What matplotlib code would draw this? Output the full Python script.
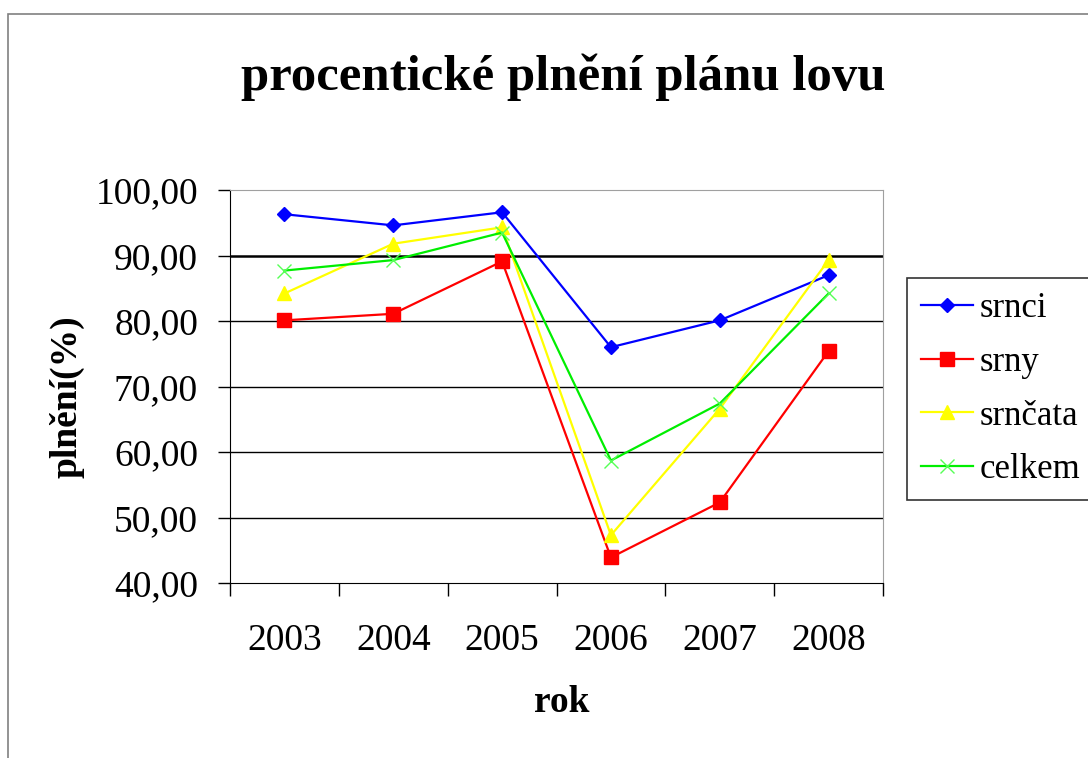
import numpy as np
import matplotlib.pyplot as plt
from matplotlib.patches import Rectangle

## data
years = ['2003', '2004', '2005', '2006', '2007', '2008']
srnci = [96.3, 94.6, 96.6, 76.0, 80.1, 87.0]
srny = [80.1, 81.1, 89.1, 43.9, 52.3, 75.4]
srncata = [84.2, 91.8, 94.3, 47.3, 66.6, 89.3]
celkem = [87.7, 89.3, 93.5, 58.7, 67.4, 84.2]
y_ticks = [40, 50, 60, 70, 80, 90, 100]

plt.rcParams['font.family'] = ['Liberation Serif', 'DejaVu Serif']

fig = plt.figure(figsize=(10.88, 7.58), dpi=100)
ax = fig.add_axes([230 / 1088, 1 - 583 / 758, 653 / 1088, 393 / 758])

## outer chart frame (cut off at right and bottom)
fig.patches.append(Rectangle((8 / 1088, -0.1), 1.2, 1 - 14 / 758 + 0.1,
                             transform=fig.transFigure, fill=False,
                             edgecolor='#808080', linewidth=1.2))

x = np.arange(len(years))
for yv in y_ticks[1:-1]:
    ax.axhline(yv, color='black', linewidth=1.8 if yv == 90 else 1.0, zorder=1)

ax.plot(x, srnci, color='#0000FF', marker='D', markersize=7, linewidth=1.6, label='srnci', zorder=3)
ax.plot(x, srny, color='#FF0000', marker='s', markersize=10, linewidth=1.6, label='srny', zorder=3)
ax.plot(x, srncata, color='#FFFF00', marker='^', markersize=10, linewidth=1.6, label='srnčata', zorder=3)
ax.plot(x, celkem, color='#00EE00', marker='x', markersize=10, markeredgewidth=1.0,
        markeredgecolor='#55FF55', linewidth=1.6, label='celkem', zorder=3)

ax.set_xlim(-0.5, len(years) - 0.5)
ax.set_ylim(40, 100)
ax.set_yticks(y_ticks)
ax.set_yticklabels(['{:.2f}'.format(v).replace('.', ',') for v in y_ticks], fontsize=27)
ax.set_xticks(np.arange(-0.5, len(years), 1.0))
ax.set_xticklabels([])
ax.set_xticks(x, minor=True)
ax.set_xticklabels(years, minor=True, fontsize=27)
ax.tick_params(axis='x', which='major', direction='out', length=9, width=1)
ax.tick_params(axis='x', which='minor', length=0, pad=29)
ax.tick_params(axis='y', direction='out', length=9, width=1, pad=14)

ax.spines['left'].set_color('black')
ax.spines['bottom'].set_color('black')
ax.spines['top'].set_color('#A0A0A0')
ax.spines['right'].set_color('#A0A0A0')

fig.text(563 / 1088, 1 - 77 / 758, 'procentické plnění plánu lovu', ha='center', va='center',
         fontsize=36.5, fontweight='bold')
fig.text(67 / 1088, 1 - 397 / 758, 'plnění(%)', ha='center', va='center', rotation=90,
         fontsize=27, fontweight='bold')
fig.text(562 / 1088, 1 - 702 / 758, 'rok', ha='center', va='center',
         fontsize=27, fontweight='bold')

leg = fig.legend(loc='upper left', bbox_to_anchor=(907 / 1088, 1 - 278 / 758),
                 fontsize=25, frameon=True, fancybox=False, edgecolor='black',
                 handlelength=1.5, labelspacing=0.6, borderpad=0.4, handletextpad=0.2,
                 borderaxespad=0)
leg.get_frame().set_linewidth(1.2)

plt.savefig('out.png', dpi=100)
